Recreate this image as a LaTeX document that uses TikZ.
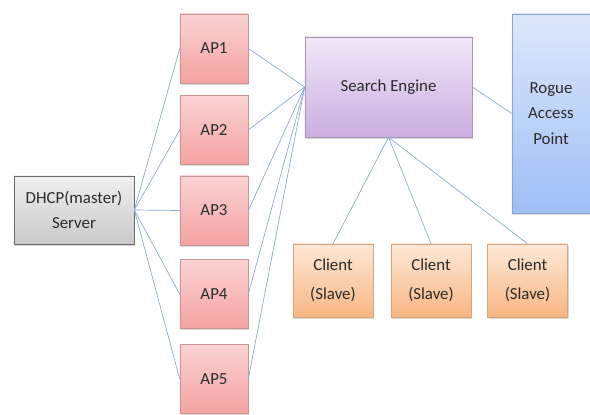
\documentclass[tikz,border=0pt]{standalone}
\usepackage{fontspec}
\setmainfont{Carlito}
\usepackage{tikz}
\usetikzlibrary{shadows}

\definecolor{linkblue}{HTML}{8EA9DB}
\definecolor{txt}{HTML}{2B2B2B}
\definecolor{aptop}{HTML}{FAD3D3}
\definecolor{apbot}{HTML}{F5A2A2}
\definecolor{apline}{HTML}{C99595}
\definecolor{setop}{HTML}{F0E8F7}
\definecolor{sebot}{HTML}{CAAEE0}
\definecolor{seline}{HTML}{A896B8}
\definecolor{rgtop}{HTML}{DEE8FB}
\definecolor{rgbot}{HTML}{9EBEF5}
\definecolor{rgline}{HTML}{8CA6D2}
\definecolor{cltop}{HTML}{FDE8D7}
\definecolor{clbot}{HTML}{F8B784}
\definecolor{clline}{HTML}{D5A67E}

\begin{document}
\begin{tikzpicture}[x=0.025cm, y=-0.025cm,
		box/.style={draw, align=center, inner sep=0pt, text=txt, font=\fontsize{12}{18}\selectfont,
			drop shadow={shadow xshift=1pt, shadow yshift=-1.2pt, opacity=0.3}},
		apbox/.style={box, draw=apline, top color=aptop, bottom color=apbot,
			minimum width=1.7cm, minimum height=1.725cm},
		clientbox/.style={box, draw=clline, top color=cltop, bottom color=clbot,
			minimum width=2cm, minimum height=1.825cm, font=\fontsize{12}{21}\selectfont},
		link/.style={linkblue, line width=0.5pt}]
			\useasboundingbox (0,0) rectangle (590,414);
			% access points
			\node[apbox] (ap1) at (214,48.5) {AP1};
			\node[apbox] (ap2) at (214,130) {AP2};
			\node[apbox] (ap3) at (214,210.5) {AP3};
			\node[apbox] (ap4) at (214,294) {AP4};
			\node[apbox] (ap5) at (214,379) {AP5};
			\node[box, draw=gray!85!black, top color=gray!12, bottom color=gray!42, minimum width=3cm, minimum height=1.7cm] (dhcp) at (74,210) {DHCP(master)\\Server};
			\node[box, draw=seline, top color=setop, bottom color=sebot, minimum width=4.175cm, minimum height=2.5cm] (engine) at (388.5,87) {Search Engine};
			\node[box, draw=rgline, top color=rgtop, bottom color=rgbot, minimum width=1.95cm, minimum height=4.975cm] (rogue) at (551,113.5) {Rogue\\Access\\Point};
			% clients
			\node[clientbox] (cl1) at (333,280.5) {Client\\(Slave)};
			\node[clientbox] (cl2) at (431,280.5) {Client\\(Slave)};
			\node[clientbox] (cl3) at (527.5,280.5) {Client\\(Slave)};
			\foreach \i in {1,...,5} {
				\draw[link] (dhcp.east) -- (ap\i.west);
				\draw[link] (ap\i.east) -- (engine.west);
			}
			\draw[link] (engine.east) -- (rogue.west);
			\foreach \i in {1,2,3}
				\draw[link] (engine.south) -- (cl\i.north);
		\end{tikzpicture}
\end{document}
